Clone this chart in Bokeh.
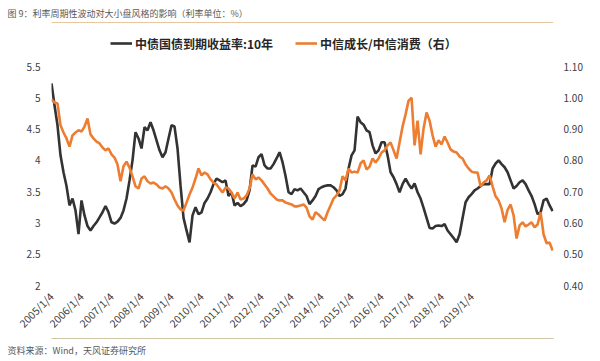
import math
from bokeh.plotting import figure
from bokeh.models import (LinearAxis, Range1d, Legend, LegendItem, Title, Span,
                          FixedTicker, PrintfTickFormatter)
from bokeh.embed import file_html
from bokeh.resources import INLINE

# 中债国债到期收益率:10年 (%), left axis
yield_10y = [
    5.23, 4.88, 4.56, 4.08, 3.81, 3.59, 3.28, 3.39, 3.20, 2.82,
    3.36, 3.12, 2.95, 2.88, 2.95, 3.01, 3.09, 3.17, 3.27, 3.17,
    3.01, 2.99, 3.02, 3.08, 3.20, 3.39, 3.68, 4.00, 4.45, 4.35,
    4.19, 4.53, 4.48, 4.61, 4.48, 4.32, 4.16, 4.05, 4.13, 4.35,
    4.56, 4.54, 4.19, 3.60, 3.08, 2.88, 2.69, 3.12, 3.25, 3.14,
    3.17, 3.32, 3.39, 3.49, 3.62, 3.71, 3.68, 3.65, 3.68, 3.43,
    3.49, 3.28, 3.32, 3.27, 3.30, 3.36, 3.52, 3.92, 3.90, 4.05,
    4.10, 3.92, 3.87, 3.87, 3.94, 4.03, 4.13, 3.97, 3.75, 3.49,
    3.46, 3.54, 3.52, 3.55, 3.49, 3.43, 3.30, 3.36, 3.43, 3.54,
    3.57, 3.59, 3.60, 3.60, 3.57, 3.52, 3.43, 3.46, 3.55, 3.87,
    4.08, 4.16, 4.70, 4.61, 4.57, 4.48, 4.45, 4.24, 4.11, 4.16,
    4.29, 4.29, 4.08, 3.81, 3.73, 3.62, 3.49, 3.62, 3.71, 3.62,
    3.55, 3.63, 3.49, 3.39, 3.24, 3.08, 2.92, 2.91, 2.95, 2.96,
    2.95, 2.98, 2.88, 2.82, 2.76, 2.69, 2.82, 3.08, 3.33, 3.41,
    3.46, 3.52, 3.55, 3.59, 3.62, 3.62, 3.62, 3.87, 3.95, 4.00,
    3.94, 3.89, 3.81, 3.68, 3.55, 3.59, 3.65, 3.68, 3.62, 3.52,
    3.43, 3.30, 3.14, 3.17, 3.36, 3.39, 3.28, 3.19,
]

# 中信成长/中信消费 (右), right axis
growth_vs_consumption = [
    0.995, 0.985, 0.982, 0.912, 0.889, 0.870, 0.844, 0.880, 0.889, 0.896,
    0.892, 0.908, 0.934, 0.883, 0.870, 0.860, 0.854, 0.841, 0.832, 0.838,
    0.819, 0.809, 0.787, 0.733, 0.781, 0.796, 0.777, 0.749, 0.717, 0.710,
    0.742, 0.749, 0.733, 0.726, 0.729, 0.723, 0.713, 0.710, 0.717, 0.710,
    0.697, 0.675, 0.656, 0.643, 0.640, 0.665, 0.691, 0.713, 0.742, 0.774,
    0.752, 0.761, 0.755, 0.739, 0.729, 0.723, 0.710, 0.697, 0.713, 0.710,
    0.697, 0.678, 0.697, 0.675, 0.678, 0.688, 0.710, 0.755, 0.739, 0.745,
    0.736, 0.723, 0.710, 0.694, 0.685, 0.675, 0.672, 0.672, 0.665, 0.662,
    0.659, 0.653, 0.653, 0.656, 0.659, 0.649, 0.621, 0.611, 0.634, 0.627,
    0.617, 0.608, 0.634, 0.656, 0.678, 0.688, 0.704, 0.749, 0.736, 0.774,
    0.761, 0.764, 0.761, 0.790, 0.800, 0.771, 0.780, 0.806, 0.793, 0.806,
    0.825, 0.832, 0.848, 0.857, 0.832, 0.806, 0.857, 0.908, 0.947, 0.991,
    1.000, 0.848, 0.927, 0.819, 0.902, 0.953, 0.927, 0.880, 0.844, 0.864,
    0.851, 0.876, 0.857, 0.835, 0.828, 0.825, 0.812, 0.806, 0.787, 0.774,
    0.764, 0.761, 0.761, 0.717, 0.729, 0.736, 0.752, 0.717, 0.685, 0.672,
    0.646, 0.602, 0.642, 0.659, 0.624, 0.550, 0.592, 0.602, 0.589, 0.595,
    0.602, 0.586, 0.595, 0.634, 0.563, 0.535, 0.537, 0.512,
]

x_tick_labels = ["2005/1/4", "2006/1/4", "2007/1/4", "2008/1/4", "2009/1/4",
                 "2010/1/4", "2011/1/4", "2012/1/4", "2013/1/4", "2014/1/4",
                 "2015/1/4", "2016/1/4", "2017/1/4", "2018/1/4", "2019/1/4"]
label_every = 10
left_ticks = [2, 2.5, 3, 3.5, 4, 4.5, 5, 5.5]
right_ticks = [0.4, 0.5, 0.6, 0.7, 0.8, 0.9, 1.0, 1.1]

title_text = "图 9：利率周期性波动对大小盘风格的影响（利率单位：%）"
source_text = "资料来源：Wind，天风证券研究所"
name_yield = "中债国债到期收益率:10年"
name_ratio = "中信成长/中信消费（右）"

FONT = "Noto Sans CJK SC"
BLACK = "#333333"
ORANGE = "#ED7D31"
TXT = "#404040"

# plot geometry (pixels): frame 51..553 x 20..285; value 5.5 sits at y=66, 2 at y=285
FRAME_TOP, AXIS_TOP, FRAME_BOTTOM = 20, 66, 285
L_LO, L_HI, R_LO, R_HI = 2.0, 5.5, 0.4, 1.1
ext = (AXIS_TOP - FRAME_TOP) / (FRAME_BOTTOM - AXIS_TOP)   # headroom above the top tick
X_END = 167.3

xs = list(range(len(yield_10y)))

p = figure(width=600, height=361, output_backend="svg", toolbar_location=None,
           x_range=Range1d(0, X_END),
           y_range=Range1d(L_LO, L_HI + (L_HI - L_LO) * ext),
           min_border_left=51, min_border_right=47,
           min_border_top=FRAME_TOP, min_border_bottom=361 - FRAME_BOTTOM,
           background_fill_color="white", border_fill_color="white")
p.outline_line_color = None
p.grid.grid_line_color = None
p.extra_y_ranges = {"r": Range1d(R_LO, R_HI + (R_HI - R_LO) * ext)}

p.yaxis.ticker = FixedTicker(ticks=left_ticks)
p.yaxis.formatter = PrintfTickFormatter(format="%g")
p.xaxis.ticker = FixedTicker(ticks=[i * label_every for i in range(len(x_tick_labels))])
p.xaxis.major_label_overrides = {i * label_every: lab for i, lab in enumerate(x_tick_labels)}
p.xaxis.major_label_orientation = math.pi / 4
raxis = LinearAxis(y_range_name="r", ticker=FixedTicker(ticks=right_ticks),
                   formatter=PrintfTickFormatter(format="%.2f"))
p.add_layout(raxis, "right")

for ax in [p.xaxis[0], p.yaxis[0], raxis]:
    ax.axis_line_color = None
    ax.major_tick_line_color = None
    ax.minor_tick_line_color = None
    ax.major_label_text_font = FONT
    ax.major_label_text_font_size = "10px"
    ax.major_label_text_color = TXT
p.yaxis[0].major_tick_out = 0
p.yaxis[0].major_label_standoff = 11
raxis.major_tick_out = 0
raxis.major_label_standoff = 10
p.xaxis[0].major_label_text_font_size = "10.5px"
p.xaxis[0].major_tick_out = 6
p.xaxis[0].major_label_standoff = 3

r1 = p.line(xs, yield_10y, line_color=BLACK, line_width=2.6)
r2 = p.line(xs, growth_vs_consumption, y_range_name="r", line_color=ORANGE, line_width=2.6)

# separator under the title (inside the frame, 2px below its top)
sep_value = L_HI + (L_HI - L_LO) * (AXIS_TOP - 22) / (FRAME_BOTTOM - AXIS_TOP)
p.add_layout(Span(location=sep_value, dimension="width", line_color="#E6C7A1",
                  line_width=1))

legend = Legend(items=[LegendItem(label=name_yield, renderers=[r1]),
                       LegendItem(label=name_ratio, renderers=[r2])],
                orientation="horizontal", location=(59, 232),
                label_text_font=FONT, label_text_font_size="12px",
                label_text_font_style="bold", label_text_color="#262626",
                glyph_width=22, label_standoff=3, spacing=22, padding=0, margin=0,
                border_line_color=None, background_fill_alpha=0)
p.add_layout(legend, "center")

p.add_layout(Title(text=title_text, align="left", offset=-44, standoff=1,
                   text_font=FONT, text_font_size="9px", text_font_style="normal",
                   text_color="#595959"), "above")

# separator above the source note: a bare rule (axis line only, no ticks) below the x axis
rule = LinearAxis(ticker=FixedTicker(ticks=[]),
                  major_tick_out=0, major_tick_in=0, major_label_standoff=0,
                  axis_line_color="#CFC6A6", axis_line_width=1,
                  major_tick_line_color=None, minor_tick_line_color=None)
p.add_layout(rule, "below")
p.add_layout(Title(text=source_text, align="left", offset=-44, standoff=6,
                   text_font=FONT, text_font_size="9px", text_font_style="normal",
                   text_color="#595959"), "below")

open("out.html", "w").write(file_html(p, INLINE))
